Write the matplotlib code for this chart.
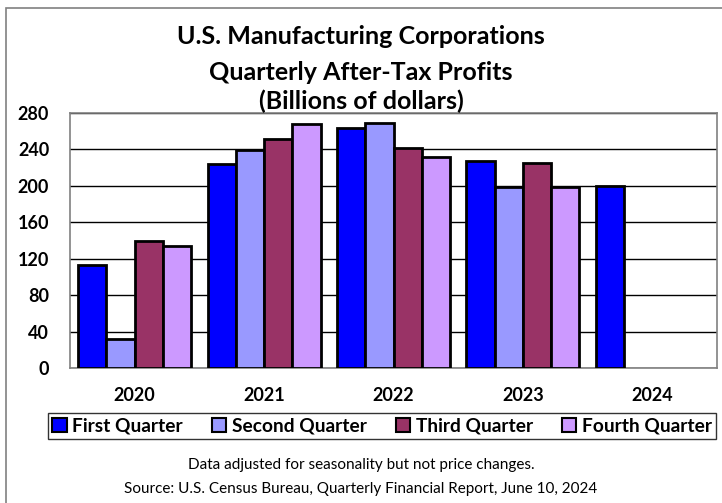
import matplotlib.pyplot as plt
import numpy as np

plt.rcParams['font.family'] = ['Lato', 'DejaVu Sans']

years = ['2020', '2021', '2022', '2023', '2024']
series_names = ['First Quarter', 'Second Quarter', 'Third Quarter', 'Fourth Quarter']
q1 = [113, 224, 263, 227, 200]
q2 = [32, 239, 269, 199, np.nan]
q3 = [139, 251, 242, 225, np.nan]
q4 = [134, 268, 232, 199, np.nan]
colors = ['#0000FF', '#9999FF', '#993366', '#CC99FF']
yticks = [0, 40, 80, 120, 160, 200, 240, 280]

fig = plt.figure(figsize=(7.22, 5.03), dpi=100)
# outer chart frame
fig.patches.append(plt.Rectangle((6 / 722, -0.01), 1.0, 1 - 8 / 503 + 0.01, transform=fig.transFigure,
                                 fill=False, edgecolor='#808080', linewidth=1.2))

ax = fig.add_axes([70 / 722, 1 - 368 / 503, 647 / 722, 255 / 503])
x = np.arange(len(years))
w = 0.218
for i, vals in enumerate([q1, q2, q3, q4]):
    ax.bar(x + (i - 1.5) * w, vals, width=w, color=colors[i], edgecolor='black',
           linewidth=2, label=series_names[i], zorder=3)

ax.set_xlim(-0.5, len(years) - 0.5)
ax.set_ylim(0, 280)
ax.set_yticks(yticks)
ax.set_yticklabels([str(t) for t in yticks], fontsize=13, fontweight='bold')
ax.set_xticks(x)
ax.set_xticklabels(years, fontsize=13, fontweight='bold')
ax.tick_params(axis='both', length=0)
ax.tick_params(axis='x', pad=14)
ax.tick_params(axis='y', pad=15)
ax.grid(True, axis='y', color='black', linewidth=1, zorder=0)
for s in ax.spines.values():
    s.set_color('#808080')
    s.set_linewidth(1.2)

fig.text(0.5, 1 - 37 / 503, 'U.S. Manufacturing Corporations', ha='center', va='center',
         fontsize=18, fontweight='bold')
fig.text(0.5, 1 - 72 / 503, 'Quarterly After-Tax Profits', ha='center', va='center',
         fontsize=18, fontweight='bold')
fig.text(0.5, 1 - 101 / 503, '(Billions of dollars)', ha='center', va='center',
         fontsize=18, fontweight='bold')

leg = fig.legend(loc='center', bbox_to_anchor=(382 / 722, 1 - 426 / 503), ncol=4,
                 frameon=True, fancybox=False, edgecolor='black', handlelength=0.75,
                 handleheight=0.75, handletextpad=0.3, columnspacing=1.5,
                 prop={'weight': 'bold', 'size': 13.8}, borderpad=0.25, borderaxespad=0)
leg.get_frame().set_linewidth(1)
for h in leg.legend_handles:
    h.set_linewidth(1.5)

fig.text(0.5, 1 - 465 / 503, 'Data adjusted for seasonality but not price changes.',
         ha='center', va='center', fontsize=11)
fig.text(0.5, 1 - 489 / 503, 'Source: U.S. Census Bureau, Quarterly Financial Report, June 10, 2024',
         ha='center', va='center', fontsize=11)

fig.savefig('out.png', dpi=100)
